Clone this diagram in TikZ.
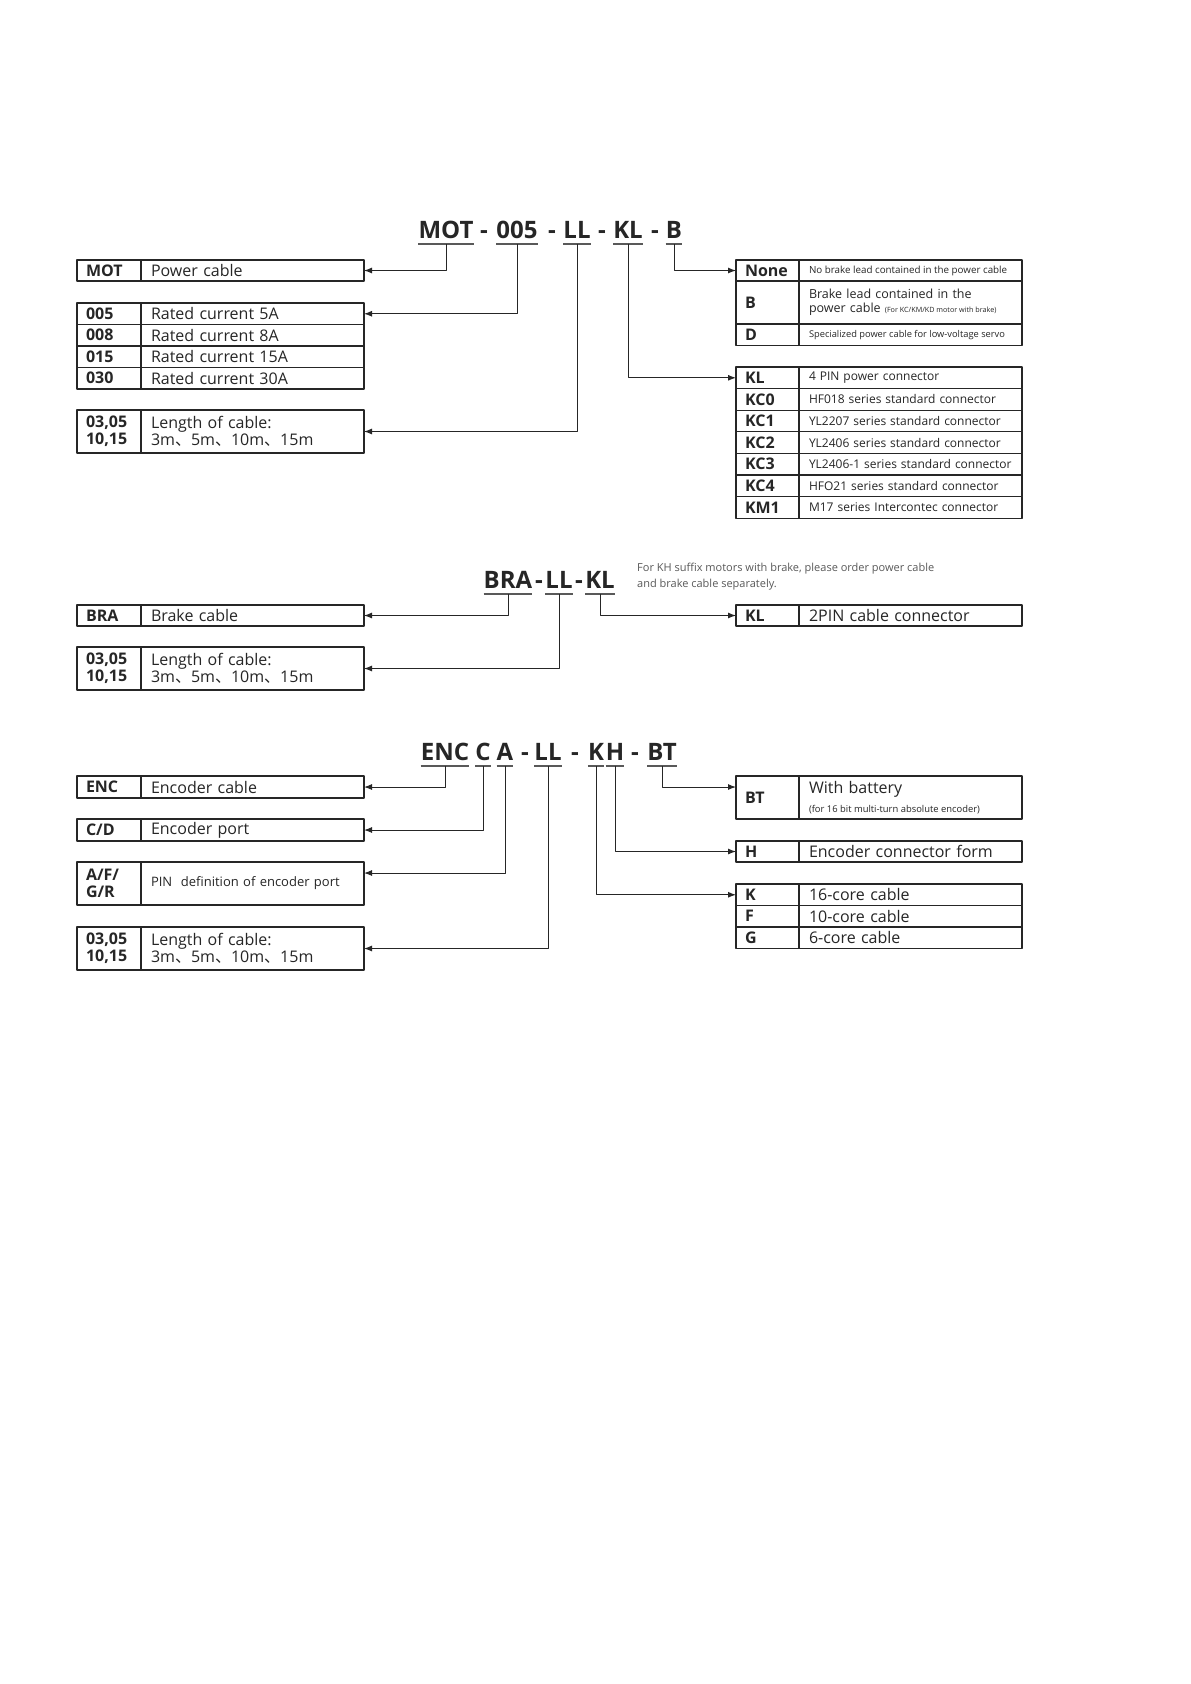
\documentclass[tikz,border=0pt]{standalone}
\usepackage{fontspec}
\setmainfont{Open Sans}
\newfontfamily\cjk{Noto Sans CJK SC}
\usetikzlibrary{positioning,arrows.meta}
\newcommand{\dun}{{\cjk 、}}
\newcommand{\smalltxt}[2]{{\fontsize{#1}{#1}\selectfont\spaceskip=0pt\xspaceskip=0pt #2}}

\begin{document}
\begin{tikzpicture}[x=1pt,y=-1pt,>={Latex[length=8pt,width=6pt]},line join=round,
	cell/.style={draw=black!85,line width=1.1pt,inner ysep=0pt,outer sep=0pt,align=left,text=black!85},
	code/.style={cell,anchor=north west,text width=46pt,inner xsep=9pt,font=\bfseries\fontsize{16}{17}\selectfont},
	rcode/.style={code,text width=45pt},
	desc/.style={cell,text width=203pt,inner xsep=10pt,font=\fontsize{16}{17}\selectfont},
	part/.style={inner sep=0pt,anchor=base,text depth=6pt,font=\bfseries\fontsize{24}{24}\selectfont,text=black!85},
	uline/.style={draw=black!65,line width=2.5pt},
	conn/.style={->,draw=black!85,line width=1pt}]
	\fill[white] (0,0) rectangle (1191,1684);
	\useasboundingbox (0,0) rectangle (1191,1684);
	% power cable
	\node[part] (t1mot) at (446,238) {MOT};
	\node[part] (t1da) at (484,238) {-};
	\node[part] (t1005) at (517,238) {005};
	\node[part] (t1db) at (552,238) {-};
	\node[part] (t1ll) at (577,238) {LL};
	\node[part] (t1dc) at (602,238) {-};
	\node[part] (t1kl) at (628,238) {KL};
	\node[part] (t1dd) at (655,238) {-};
	\node[part] (t1b) at (674,238) {B};
	\draw[uline] (t1mot.south west)--(t1mot.south east) (t1005.south west)--(t1005.south east)
		(t1ll.south west)--(t1ll.south east) (t1kl.south west)--(t1kl.south east) (t1b.south west)--(t1b.south east);
	\node[code,minimum height=21pt] (mot) at (77,260) {MOT};
	\node[desc,minimum height=21pt,right=0pt of mot] (motd) {Power cable};
	\node[code,minimum height=21.5pt] (c005) at (77,303) {005};
	\node[desc,minimum height=21.5pt,right=0pt of c005] (c005d) {Rated current 5A};
	\node[code,minimum height=21.5pt,below=0pt of c005] (c008) {008};
	\node[desc,minimum height=21.5pt,right=0pt of c008] (c008d) {Rated current 8A};
	\node[code,minimum height=21.5pt,below=0pt of c008] (c015) {015};
	\node[desc,minimum height=21.5pt,right=0pt of c015] (c015d) {Rated current 15A};
	\node[code,minimum height=21.5pt,below=0pt of c015] (c030) {030};
	\node[desc,minimum height=21.5pt,right=0pt of c030] (c030d) {Rated current 30A};
	\node[code,minimum height=43pt] (len1) at (77,410) {03,05\\10,15};
	\node[desc,minimum height=43pt,right=0pt of len1] (len1d) {Length of cable:\\3m\dun5m\dun10m\dun15m};
	\node[rcode,minimum height=21pt] (none) at (736,260) {None};
	\node[desc,minimum height=21pt,right=0pt of none] (noned) {\smalltxt{9.8}{No brake lead contained in the power cable}};
	\node[rcode,minimum height=43pt,below=0pt of none] (b) {B};
	\node[desc,minimum height=43pt,right=0pt of b,font=\fontsize{12.5}{14}\selectfont] (bd) {Brake lead contained in the\\power cable \smalltxt{7.2}{(For KC/KM/KD motor with brake)}};
	\node[rcode,minimum height=21.5pt,below=0pt of b] (d) {D};
	\node[desc,minimum height=21.5pt,right=0pt of d] (dd) {\smalltxt{9.3}{Specialized power cable for low-voltage servo}};
	\node[rcode,minimum height=21.6pt] (kl) at (736,367) {KL};
	\node[desc,minimum height=21.6pt,right=0pt of kl,font=\fontsize{12}{14}\selectfont] (kld) {4 PIN power connector};
	\node[rcode,minimum height=21.6pt,below=0pt of kl] (kc0) {KC0};
	\node[desc,minimum height=21.6pt,right=0pt of kc0,font=\fontsize{12}{14}\selectfont] (kc0d) {HF018 series standard connector};
	\node[rcode,minimum height=21.6pt,below=0pt of kc0] (kc1) {KC1};
	\node[desc,minimum height=21.6pt,right=0pt of kc1,font=\fontsize{12}{14}\selectfont] (kc1d) {YL2207 series standard connector};
	\node[rcode,minimum height=21.6pt,below=0pt of kc1] (kc2) {KC2};
	\node[desc,minimum height=21.6pt,right=0pt of kc2,font=\fontsize{12}{14}\selectfont] (kc2d) {YL2406 series standard connector};
	\node[rcode,minimum height=21.6pt,below=0pt of kc2] (kc3) {KC3};
	\node[desc,minimum height=21.6pt,right=0pt of kc3,font=\fontsize{12}{14}\selectfont] (kc3d) {YL2406-1 series standard connector};
	\node[rcode,minimum height=21.6pt,below=0pt of kc3] (kc4) {KC4};
	\node[desc,minimum height=21.6pt,right=0pt of kc4,font=\fontsize{12}{14}\selectfont] (kc4d) {HFO21 series standard connector};
	\node[rcode,minimum height=21.6pt,below=0pt of kc4] (km1) {KM1};
	\node[desc,minimum height=21.6pt,right=0pt of km1,font=\fontsize{12}{14}\selectfont] (km1d) {M17 series Intercontec connector};
	\draw[conn] (t1mot.south) |- (motd.east);
	\draw[conn] (t1005.south) |- (c005d.east);
	\draw[conn] (t1ll.south) |- (len1d.east);
	\draw[conn] (t1kl.south) |- (kl.west);
	\draw[conn] (t1b.south) |- (none.west);
	% brake cable
	\node[part] (t2bra) at (508,588) {BRA};
	\node[part] (t2da) at (539,588) {-};
	\node[part] (t2ll) at (559,588) {LL};
	\node[part] (t2db) at (579,588) {-};
	\node[part] (t2kl) at (600,588) {KL};
	\draw[uline] (t2bra.south west)--(t2bra.south east) (t2ll.south west)--(t2ll.south east) (t2kl.south west)--(t2kl.south east);
	\node[anchor=north west,inner sep=0pt,align=left,text=black!65,font=\fontsize{11}{16}\selectfont] (brnote) at (637,563)
		{For KH suffix motors with brake, please order power cable\\and brake cable separately.};
	\node[code,minimum height=21pt] (bra) at (77,605) {BRA};
	\node[desc,minimum height=21pt,right=0pt of bra] (brad) {Brake cable};
	\node[code,minimum height=43pt] (len2) at (77,647) {03,05\\10,15};
	\node[desc,minimum height=43pt,right=0pt of len2] (len2d) {Length of cable:\\3m\dun5m\dun10m\dun15m};
	\node[rcode,minimum height=21pt] (kl2) at (736,605) {KL};
	\node[desc,minimum height=21pt,right=0pt of kl2] (kl2d) {2PIN cable connector};
	\draw[conn] (t2bra.south) |- (brad.east);
	\draw[conn] (t2ll.south) |- (len2d.east);
	\draw[conn] (t2kl.south) |- (kl2.west);
	% encoder cable
	\node[part] (t3enc) at (445,760) {ENC};
	\node[part] (t3c) at (483,760) {C};
	\node[part] (t3a) at (505,760) {A};
	\node[part] (t3da) at (525,760) {-};
	\node[part] (t3ll) at (548,760) {LL};
	\node[part] (t3db) at (575,760) {-};
	\node[part] (t3k) at (596,760) {K};
	\node[part] (t3h) at (615,760) {H};
	\node[part] (t3dc) at (635,760) {-};
	\node[part] (t3bt) at (662,760) {BT};
	\draw[uline] (t3enc.south west)--(t3enc.south east) (t3c.south west)--(t3c.south east)
		(t3a.south west)--(t3a.south east) (t3ll.south west)--(t3ll.south east)
		(t3k.south west)--(t3k.south east) (t3h.south west)--(t3h.south east) (t3bt.south west)--(t3bt.south east);
	\node[code,minimum height=22pt] (enc) at (77,776) {ENC};
	\node[desc,minimum height=22pt,right=0pt of enc] (encd) {Encoder cable};
	\node[code,minimum height=22pt] (cd) at (77,819) {C/D};
	\node[desc,minimum height=22pt,right=0pt of cd] (cdd) {Encoder port};
	\node[code,minimum height=43pt] (afgr) at (77,862) {A/F/\\G/R};
	\node[desc,minimum height=43pt,right=0pt of afgr,font=\fontsize{13}{15}\selectfont] (afgrd) {PIN\ \ definition of encoder port};
	\node[code,minimum height=43pt] (len3) at (77,927) {03,05\\10,15};
	\node[desc,minimum height=43pt,right=0pt of len3] (len3d) {Length of cable:\\3m\dun5m\dun10m\dun15m};
	\node[rcode,minimum height=43pt] (bt) at (736,776) {BT};
	\node[desc,minimum height=43pt,right=0pt of bt,font=\fontsize{16}{19}\selectfont] (btd) {With battery\\\smalltxt{9.4}{(for 16 bit multi-turn absolute encoder)}};
	\node[rcode,minimum height=21pt] (hh) at (736,841) {H};
	\node[desc,minimum height=21pt,right=0pt of hh] (hhd) {Encoder connector form};
	\node[rcode,minimum height=21.5pt] (k) at (736,884) {K};
	\node[desc,minimum height=21.5pt,right=0pt of k] (kd) {16-core cable};
	\node[rcode,minimum height=21.5pt,below=0pt of k] (f) {F};
	\node[desc,minimum height=21.5pt,right=0pt of f] (fd) {10-core cable};
	\node[rcode,minimum height=21.5pt,below=0pt of f] (g) {G};
	\node[desc,minimum height=21.5pt,right=0pt of g] (gd) {6-core cable};
	\coordinate (afgrin) at ([yshift=-11pt]afgrd.north east);
	\coordinate (btin) at ([yshift=-11pt]bt.north west);
	\draw[conn] (t3enc.south) |- (encd.east);
	\draw[conn] (t3c.south) |- (cdd.east);
	\draw[conn] (t3a.south) |- (afgrin);
	\draw[conn] (t3ll.south) |- (len3d.east);
	\draw[conn] (t3k.south) |- (k.west);
	\draw[conn] (t3h.south) |- (hh.west);
	\draw[conn] (t3bt.south) |- (btin);
\end{tikzpicture}
\end{document}
